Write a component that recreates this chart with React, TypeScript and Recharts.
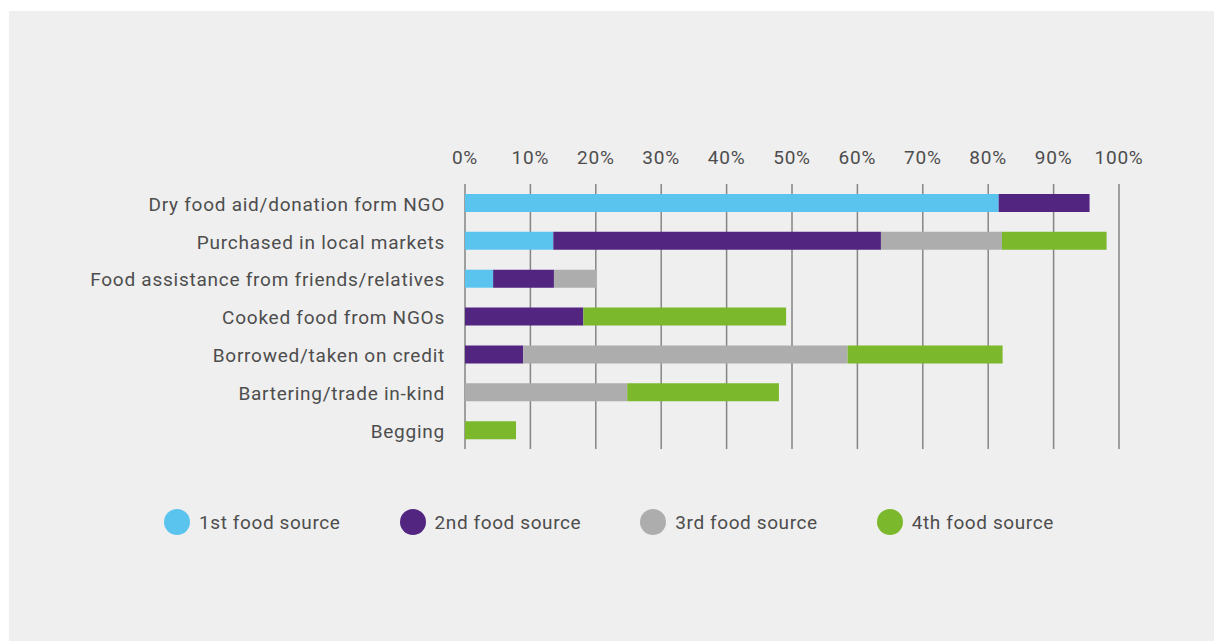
import React from 'react';
import { BarChart, Bar, XAxis, YAxis, CartesianGrid, Legend } from 'recharts';

const categories = [
  'Dry food aid/donation form NGO',
  'Purchased in local markets',
  'Food assistance from friends/relatives',
  'Cooked food from NGOs',
  'Borrowed/taken on credit',
  'Bartering/trade in-kind',
  'Begging',
];
const firstSource = [81.6, 13.5, 4.3, 0, 0, 0, 0];
const secondSource = [13.9, 50.1, 9.3, 18.1, 8.9, 0, 0];
const thirdSource = [0, 18.5, 6.5, 0, 49.6, 24.8, 0];
const fourthSource = [0, 16.0, 0, 31.0, 23.7, 23.2, 7.8];
const xTicks = [0, 10, 20, 30, 40, 50, 60, 70, 80, 90, 100];

const seriesNames = ['1st food source', '2nd food source', '3rd food source', '4th food source'];
const seriesKeys = ['first', 'second', 'third', 'fourth'];
const seriesColors = ['#5bc4ee', '#522581', '#adadad', '#7cb82b'];

const data = categories.map((name, i) => ({
  name,
  first: firstSource[i],
  second: secondSource[i],
  third: thirdSource[i],
  fourth: fourthSource[i],
}));

const FONT = 'Roboto, "DejaVu Sans", sans-serif';
const TEXT = '#4d4d4d';

const LegendContent = () => (
  <div style={{ display: 'flex', alignItems: 'center', height: 28, fontFamily: FONT }}>
    {seriesNames.map((n, i) => (
      <div key={n} style={{ display: 'flex', alignItems: 'center', marginRight: 59 }}>
        <span
          style={{
            display: 'inline-block',
            width: 26,
            height: 26,
            borderRadius: 13,
            background: seriesColors[i],
            marginRight: 9,
          }}
        />
        <span style={{ fontSize: 19, color: TEXT, whiteSpace: 'nowrap', letterSpacing: 0.6 }}>{n}</span>
      </div>
    ))}
  </div>
);

export default function App() {
  return (
    <div style={{ position: 'absolute', left: 0, top: 0, width: 1214, height: 641, background: '#ffffff' }}>
      <div style={{ position: 'absolute', left: 9, top: 11, width: 1205, height: 630, background: '#efefef' }} />
      <div style={{ position: 'absolute', left: 0, top: 0 }}>
        <BarChart
          width={1214}
          height={641}
          data={data}
          layout="vertical"
          margin={{ top: 144, right: 95, left: 0, bottom: 164 }}
          barSize={18}
          style={{ fontFamily: FONT }}
        >
          <CartesianGrid horizontal={false} vertical={true} stroke="#858585" strokeWidth={1.5} />
          <XAxis
            type="number"
            orientation="top"
            domain={[0, 100]}
            ticks={xTicks}
            tickFormatter={(v) => `${v}%`}
            axisLine={false}
            tickLine={false}
            tickSize={0}
            tickMargin={20}
            height={40}
            tick={{ fill: TEXT, fontSize: 19, fontFamily: FONT, letterSpacing: 0.8 }}
            interval={0}
          />
          <YAxis
            type="category"
            dataKey="name"
            width={465}
            axisLine={false}
            tickLine={false}
            tickSize={0}
            tickMargin={20}
            tick={{ fill: TEXT, fontSize: 19, fontFamily: FONT, letterSpacing: 0.75, dy: 1 }}
            interval={0}
          />
          <Legend
            verticalAlign="bottom"
            content={LegendContent}
            wrapperStyle={{ top: 508, left: 164, bottom: 'auto', width: 'auto' }}
          />
          {seriesKeys.map((k, i) => (
            <Bar key={k} dataKey={k} name={seriesNames[i]} stackId="a" fill={seriesColors[i]} isAnimationActive={false} />
          ))}
        </BarChart>
      </div>
    </div>
  );
}
